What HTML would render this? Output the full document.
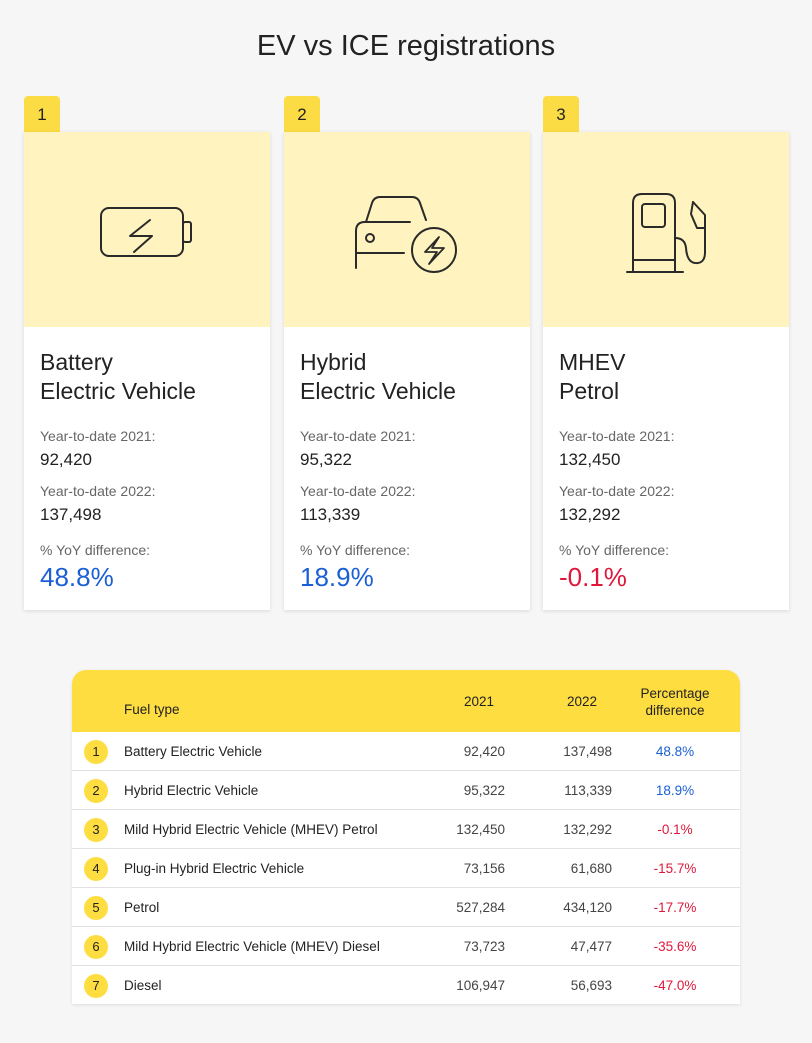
<!DOCTYPE html>
<html><head><meta charset="utf-8">
<style>
*{box-sizing:border-box;margin:0;padding:0}
body{width:812px;height:1043px;background:#f6f6f6;font-family:"Liberation Sans",sans-serif;color:#222;position:relative;overflow:hidden}
.abs{position:absolute}
h1{position:absolute;top:30px;left:0;width:812px;text-align:center;font-size:29px;font-weight:normal;color:#222}
.tab{position:absolute;top:96px;width:36px;height:37px;background:#fcdc45;border-radius:4px 4px 0 0;font-size:17px;text-align:center;line-height:38px}
.card{position:absolute;top:132px;width:246px;height:478px;background:#fff;box-shadow:0 1px 4px rgba(0,0,0,0.12)}
.card .top{height:195px;background:#fff4bf;position:relative}
.card .title{position:absolute;left:16px;top:216px;font-size:23px;line-height:29px;color:#222}
.lbl{position:absolute;left:16px;font-size:14px;color:#666}
.val{position:absolute;left:16px;font-size:17px;color:#222}
.pct{position:absolute;left:16px;top:430px;font-size:26px}
.table{position:absolute;left:72px;top:670px;width:668px;height:334px;background:#fff;border-radius:14px 14px 0 0;overflow:hidden;box-shadow:0 1px 3px rgba(0,0,0,0.1)}
.thead{height:62px;background:#fedd40;position:relative;font-size:13.5px}
.row{position:absolute;left:0;width:668px;height:39px;border-bottom:1px solid #e2e2e2;font-size:13.5px}
.row span{position:absolute;top:12px}
.num{position:absolute;left:12px;top:8px;width:24px;height:24px;border-radius:12px;background:#fedd40;text-align:center;line-height:24px;font-size:13px}
</style></head><body>
<h1>EV vs ICE registrations</h1>

<div class="tab" style="left:24px">1</div>
<div class="tab" style="left:284px">2</div>
<div class="tab" style="left:543px">3</div>

<div class="card" style="left:24px">
 <div class="top">
  <svg class="abs" style="left:0;top:0" width="246" height="195">
   <g fill="none" stroke="#2a2a2a" stroke-width="2" stroke-linejoin="round" stroke-linecap="round">
    <rect x="77" y="76" width="82" height="48" rx="8"/>
    <rect x="159" y="90" width="8" height="20" rx="2"/>
    <path d="M126 88 L106 104 L128 104 L110 120"/>
   </g>
  </svg>
 </div>
 <div class="title">Battery<br>Electric Vehicle</div>
 <div class="lbl" style="top:296px">Year-to-date 2021:</div>
 <div class="val" style="top:318px">92,420</div>
 <div class="lbl" style="top:351px">Year-to-date 2022:</div>
 <div class="val" style="top:373px">137,498</div>
 <div class="lbl" style="top:410px">% YoY difference:</div>
 <div class="pct" style="color:#1a5fd6">48.8%</div>
</div>

<div class="card" style="left:284px">
 <div class="top">
  <svg class="abs" style="left:0;top:0" width="246" height="195">
   <g fill="none" stroke="#2a2a2a" stroke-width="2" stroke-linejoin="round" stroke-linecap="round">
    <path d="M72 136 L72 99 Q72 90 81 90 L126 90"/>
    <path d="M82 90 L88 71 Q90 65 96 65 L128 65 Q134 65 136 71 L142 88"/>
    <line x1="72" y1="121" x2="120" y2="121"/>
    <circle cx="86" cy="106" r="4"/>
    <circle cx="150" cy="118" r="22"/>
    <path d="M155 105 L141 120 L153 120 L145 132 L160 116 L148 116 Z" stroke-width="1.8"/>
   </g>
  </svg>
 </div>
 <div class="title">Hybrid<br>Electric Vehicle</div>
 <div class="lbl" style="top:296px">Year-to-date 2021:</div>
 <div class="val" style="top:318px">95,322</div>
 <div class="lbl" style="top:351px">Year-to-date 2022:</div>
 <div class="val" style="top:373px">113,339</div>
 <div class="lbl" style="top:410px">% YoY difference:</div>
 <div class="pct" style="color:#1a5fd6">18.9%</div>
</div>

<div class="card" style="left:543px">
 <div class="top">
  <svg class="abs" style="left:0;top:0" width="246" height="195">
   <g fill="none" stroke="#2a2a2a" stroke-width="2" stroke-linejoin="round" stroke-linecap="round">
    <path d="M90 139 L90 71 Q90 62 99 62 L123 62 Q132 62 132 71 L132 139"/>
    <rect x="99" y="72" width="23" height="23" rx="3"/>
    <line x1="90" y1="128" x2="132" y2="128"/>
    <line x1="84" y1="140" x2="140" y2="140"/>
    <path d="M132 106 Q142 106 143 116 Q144 130 152 131 Q162 132 162 120 L162 83 L150 70"/>
    <path d="M150 70 L148 82 L154 96 L162 96"/>
   </g>
  </svg>
 </div>
 <div class="title">MHEV<br>Petrol</div>
 <div class="lbl" style="top:296px">Year-to-date 2021:</div>
 <div class="val" style="top:318px">132,450</div>
 <div class="lbl" style="top:351px">Year-to-date 2022:</div>
 <div class="val" style="top:373px">132,292</div>
 <div class="lbl" style="top:410px">% YoY difference:</div>
 <div class="pct" style="color:#e0173a">-0.1%</div>
</div>

<div class="table" id="tbl">
 <div class="thead">
  <span class="abs" style="left:52px;top:32px">Fuel type</span>
  <span class="abs" style="left:392px;top:24px">2021</span>
  <span class="abs" style="left:495px;top:24px">2022</span>
  <span class="abs" style="left:553px;top:15px;width:100px;text-align:center;line-height:17px">Percentage<br>difference</span>
 </div>
</div>
<script>
const fuelTypes=["Battery Electric Vehicle","Hybrid Electric Vehicle","Mild Hybrid Electric Vehicle (MHEV) Petrol","Plug-in Hybrid Electric Vehicle","Petrol","Mild Hybrid Electric Vehicle (MHEV) Diesel","Diesel"];
const values2021=[92420,95322,132450,73156,527284,73723,106947];
const values2022=[137498,113339,132292,61680,434120,47477,56693];
const pctLabels=["48.8%","18.9%","-0.1%","-15.7%","-17.7%","-35.6%","-47.0%"];
const tbl=document.getElementById('tbl');
fuelTypes.forEach((f,i)=>{
 const r=document.createElement('div');
 r.className='row';
 r.style.top=(62+i*39)+'px';
 
 
 const neg=pctLabels[i].startsWith('-');
 r.innerHTML='<div class="num">'+(i+1)+'</div>'+
  '<span style="left:52px">'+f+'</span>'+
  '<span style="left:340px;width:93px;text-align:right;color:#444">'+values2021[i].toLocaleString('en-US')+'</span>'+
  '<span style="left:440px;width:100px;text-align:right;color:#444">'+values2022[i].toLocaleString('en-US')+'</span>'+
  '<span style="left:553px;width:100px;text-align:center;color:'+(neg?'#e0173a':'#1a5fd6')+'">'+pctLabels[i]+'</span>';
 tbl.appendChild(r);
});
</script>
</body></html>
